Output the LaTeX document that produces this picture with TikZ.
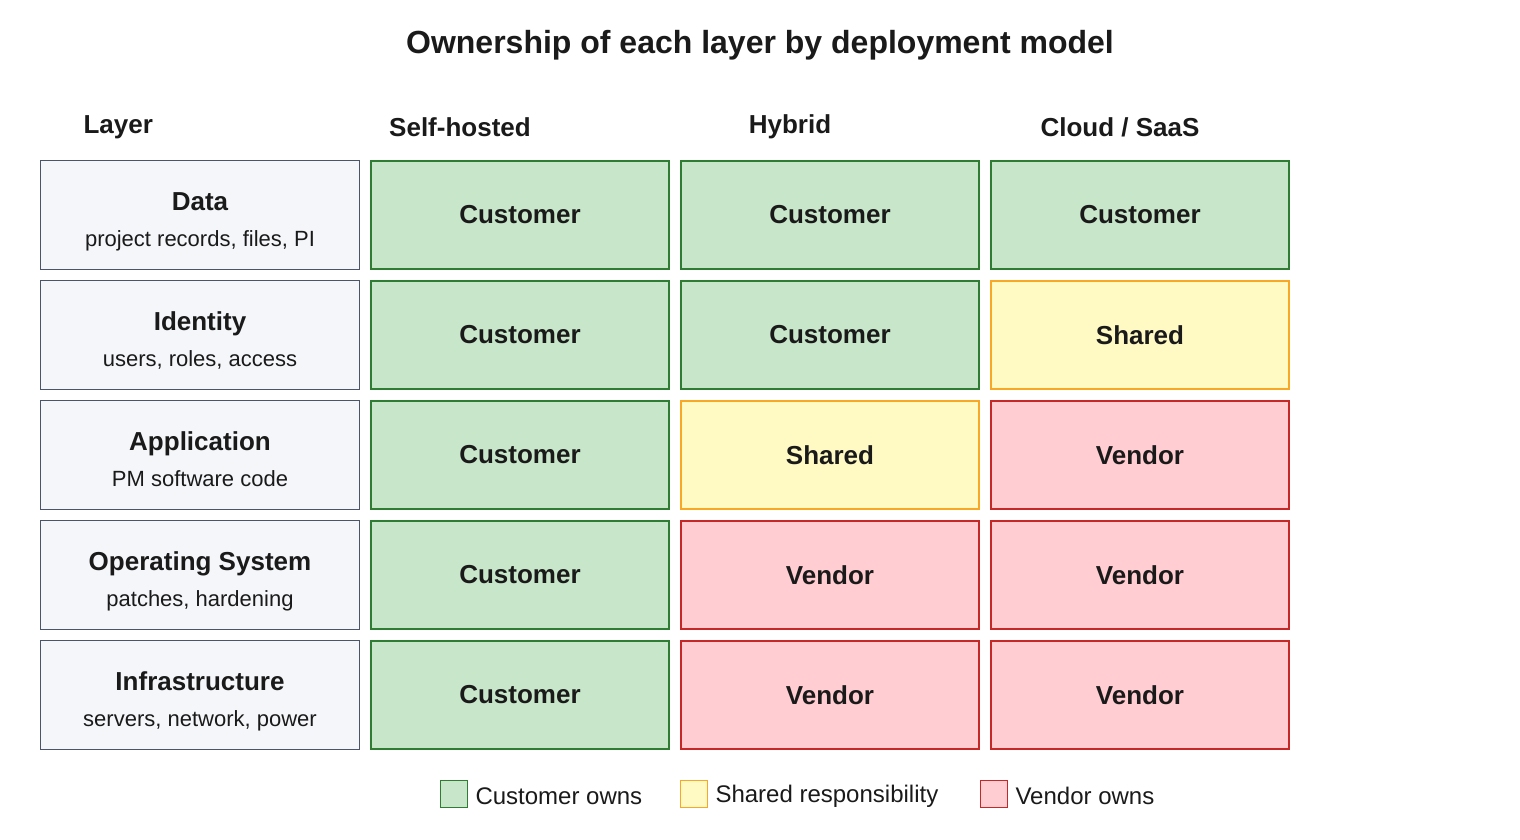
\documentclass[tikz,border=0pt]{standalone}
\usepackage{fontspec}
\setmainfont{Liberation Sans}
\definecolor{custfill}{HTML}{C8E6C9}\definecolor{custline}{HTML}{2E7D32}
\definecolor{shfill}{HTML}{FFF9C4}\definecolor{shline}{HTML}{F9A825}
\definecolor{vendfill}{HTML}{FFCDD2}\definecolor{vendline}{HTML}{C62828}
\definecolor{layfill}{HTML}{F4F6F9}\definecolor{layline}{HTML}{4A5568}
\definecolor{ink}{HTML}{1A1A1A}
\begin{document}
\begin{tikzpicture}[x=1pt,y=-1pt,
    cell/.style={draw, line width=2.6pt, minimum width=298pt, minimum height=108pt, inner sep=0pt,
                 font=\fontsize{26}{30}\selectfont\bfseries, text=ink},
    cust/.style={cell, fill=custfill, draw=custline},
    shared/.style={cell, fill=shfill, draw=shline},
    vend/.style={cell, fill=vendfill, draw=vendline},
    layer/.style={draw=layline, fill=layfill, line width=1.6pt, minimum width=319pt, minimum height=109pt, inner sep=0pt},
    hdr/.style={font=\fontsize{26}{30}\selectfont\bfseries, text=ink},
    key/.style={draw, line width=1.6pt, minimum size=27pt, inner sep=0pt},
    keytext/.style={anchor=west, font=\fontsize{24}{28}\selectfont, text=ink}]
\useasboundingbox (0,0) rectangle (1520,840);

\node[font=\fontsize{32}{36}\selectfont\bfseries, text=ink] (title) at (760,45) {Ownership of each layer by deployment model};

% column headers
\node[hdr, anchor=west] (hlayer) at (80,127) {Layer};
\node[hdr] (hself) at (460,127) {Self-hosted};
\node[hdr] (hhyb) at (790,127) {Hybrid};
\node[hdr] (hcloud) at (1120,127) {Cloud / SaaS};

% layer boxes
\foreach \y/\nm/\ttl/\sub in {215/data/Data/{project records, files, PI},
    335/ident/Identity/{users, roles, access},
    455/app/Application/{PM software code},
    575/os/Operating System/{patches, hardening},
    695/infra/Infrastructure/{servers, network, power}} {
  \node[layer] (\nm) at (200,\y) {};
  \node[hdr, anchor=base] (\nm-t) at (200,\y-5) {\ttl};
  \node[font=\fontsize{22}{26}\selectfont, text=ink, anchor=base] (\nm-s) at (200,\y+31) {\sub};
}

% ownership cells
\foreach \y/\nm/\a/\b/\c in {215/data/cust/cust/cust, 335/ident/cust/cust/shared,
    455/app/cust/shared/vend, 575/os/cust/vend/vend, 695/infra/cust/vend/vend} {
  \foreach \x/\col/\s in {520/self/\a, 830/hyb/\b, 1140/cloud/\c} {
    \node[\s] (\nm-\col) at (\x,\y)
      {\ifnum\pdfstrcmp{\s}{cust}=0 Customer\else\ifnum\pdfstrcmp{\s}{shared}=0 Shared\else Vendor\fi\fi};
  }
}

% legend
\node[key, fill=custfill, draw=custline] (kcust) at (454,794) {};
\node[keytext] (kcust-t) at (472,796) {Customer owns};
\node[key, fill=shfill, draw=shline] (kshared) at (694,794) {};
\node[keytext] (kshared-t) at (712,796) {Shared responsibility};
\node[key, fill=vendfill, draw=vendline] (kvend) at (994,794) {};
\node[keytext] (kvend-t) at (1012,796) {Vendor owns};
\end{tikzpicture}
\end{document}
